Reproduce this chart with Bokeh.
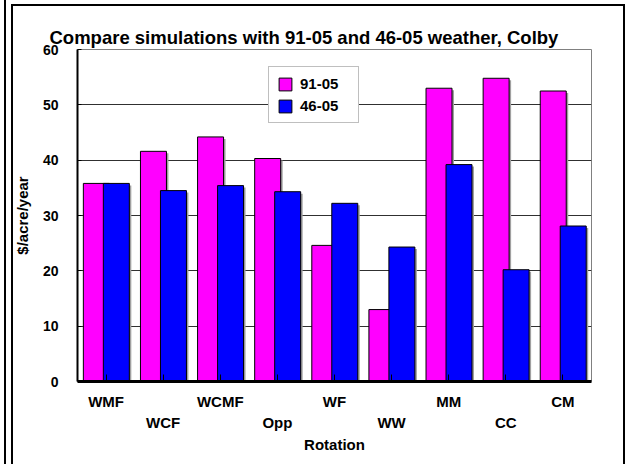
from bokeh.plotting import figure
from bokeh.models import (Range1d, LinearAxis, FixedTicker, Legend, LegendItem,
                          ColumnDataSource, Title, InlineStyleSheet)
from bokeh.embed import file_html
from bokeh.resources import INLINE

# ---------------- data ----------------
rotations = ["WMF", "WCF", "WCMF", "Opp", "WF", "WW", "MM", "CC", "CM"]
series_names = ["91-05", "46-05"]
values_91_05 = [35.8, 41.6, 44.2, 40.3, 24.6, 13.0, 53.0, 54.8, 52.5]
values_46_05 = [35.8, 34.5, 35.4, 34.3, 32.2, 24.3, 39.2, 20.2, 28.1]
y_ticks = [0, 10, 20, 30, 40, 50, 60]

FONT = "Liberation Sans"
PINK = "#FF00FF"
BLUE = "#0000FF"

n = len(rotations)
centers = [i + 0.5 for i in range(n)]
bw = 0.455
src_a = ColumnDataSource(dict(x=[i + 0.33 for i in range(n)], top=values_91_05))
src_b = ColumnDataSource(dict(x=[i + 0.68 for i in range(n)], top=values_46_05))

frame_css = InlineStyleSheet(css="""
:host { position: relative; }
:host::before { content: ''; position: absolute; left: 4px; top: 0px; width: 2px; height: 100%;
                background: black; z-index: 10; pointer-events: none; }
:host::after { content: ''; position: absolute; left: 11px; top: 4px; width: 614px; height: 470px;
               border: 2px solid black; box-sizing: border-box; z-index: 10; pointer-events: none; }
""")

p = figure(width=629, height=464, output_backend="svg", toolbar_location=None,
           x_range=Range1d(0, n), y_range=Range1d(0, 60),
           min_border_left=77, min_border_right=38, min_border_top=49, min_border_bottom=83,
           x_axis_location=None, y_axis_location=None)
p.stylesheets = [frame_css]
p.background_fill_color = "white"
p.border_fill_color = "white"
p.outline_line_color = "#808080"
p.outline_line_width = 1

# title
p.title = Title(text="Compare simulations with 91-05 and 46-05 weather, Colby",
                align="left", offset=-28, text_font=FONT, text_font_size="18.5px",
                text_font_style="bold", text_color="black", standoff=3)

# grid
p.xgrid.visible = False
p.ygrid.ticker = FixedTicker(ticks=[10, 20, 30, 40, 50])
p.ygrid.grid_line_color = "#303030"
p.ygrid.grid_line_width = 1

# shadows
p.vbar(x=[i + 0.33 + 0.035 for i in range(n)], top=[v - 0.36 for v in values_91_05], width=bw,
       bottom=0, fill_color="#a0a0a0", line_color=None)
p.vbar(x=[i + 0.68 + 0.035 for i in range(n)], top=[v - 0.36 for v in values_46_05], width=bw,
       bottom=0, fill_color="#a0a0a0", line_color=None)

ra = p.vbar(x="x", top="top", width=bw, bottom=0, source=src_a,
            fill_color=PINK, line_color="black", line_width=1)
rb = p.vbar(x="x", top="top", width=bw, bottom=0, source=src_b,
            fill_color=BLUE, line_color="black", line_width=1)

# y axis
yax = LinearAxis(ticker=FixedTicker(ticks=y_ticks), axis_label="$/acre/year")
yax.axis_line_color = "black"
yax.axis_line_width = 2
yax.major_tick_in = 4
yax.major_tick_out = 0
yax.minor_tick_line_color = None
yax.major_label_standoff = 19
yax.major_label_text_font = FONT
yax.major_label_text_font_size = "14px"
yax.major_label_text_font_style = "bold"
yax.major_label_text_color = "black"
yax.axis_label_text_font = FONT
yax.axis_label_text_font_size = "15px"
yax.axis_label_text_font_style = "bold"
yax.axis_label_text_color = "black"
yax.axis_label_standoff = 9
p.add_layout(yax, "left")

# x axis row 1 (even categories) with inside ticks at every category
x1 = LinearAxis(ticker=FixedTicker(ticks=centers))
x1.major_label_overrides = {c: (rotations[i] if i % 2 == 0 else " ") for i, c in enumerate(centers)}
x1.axis_line_color = "black"
x1.axis_line_width = 3
x1.major_tick_in = 7
x1.major_tick_out = 0
x1.major_tick_line_color = "black"
x1.minor_tick_line_color = None
x1.major_label_standoff = 11
x1.major_label_text_font = FONT
x1.major_label_text_font_size = "15px"
x1.major_label_text_font_style = "bold"
x1.major_label_text_color = "black"
p.add_layout(x1, "below")

# x axis row 2 (odd categories)
x2 = LinearAxis(ticker=FixedTicker(ticks=centers), axis_label="Rotation")
x2.major_label_overrides = {c: (rotations[i] if i % 2 == 1 else " ") for i, c in enumerate(centers)}
x2.axis_line_color = None
x2.major_tick_line_color = None
x2.minor_tick_line_color = None
x2.major_tick_in = 0
x2.major_tick_out = 0
x2.major_label_standoff = 1
x2.major_label_text_font = FONT
x2.major_label_text_font_size = "15px"
x2.major_label_text_font_style = "bold"
x2.major_label_text_color = "black"
x2.axis_label_text_font = FONT
x2.axis_label_text_font_size = "15px"
x2.axis_label_text_font_style = "bold"
x2.axis_label_text_color = "black"
x2.axis_label_standoff = 2
p.add_layout(x2, "below")

# legend
legend = Legend(items=[LegendItem(label=series_names[0], renderers=[ra]),
                       LegendItem(label=series_names[1], renderers=[rb])],
                location=(191, 258), orientation="vertical")
legend.border_line_color = "#808080"
legend.border_line_width = 1
legend.background_fill_color = "white"
legend.background_fill_alpha = 1
legend.padding = 8
legend.spacing = 5
legend.margin = 0
legend.glyph_width = 16
legend.glyph_height = 16
legend.label_standoff = 7
legend.label_width = 50
legend.label_text_font = FONT
legend.label_text_font_size = "15px"
legend.label_text_font_style = "bold"
legend.label_text_color = "black"
p.add_layout(legend, "center")

open("out.html", "w").write(file_html(p, INLINE))
